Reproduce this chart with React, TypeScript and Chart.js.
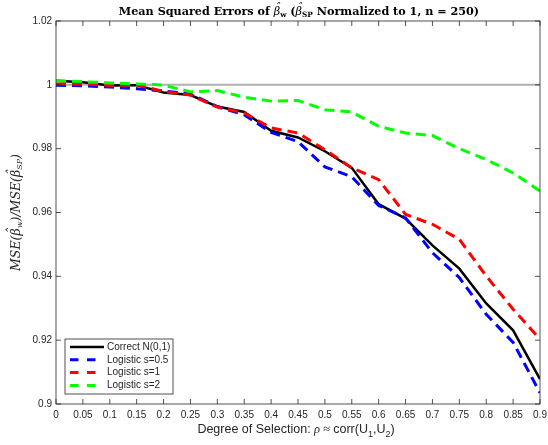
import React, { useEffect, useRef } from "react";
import { Chart, registerables } from "chart.js";
Chart.register(...registerables);

const rho = [0, 0.05, 0.1, 0.15, 0.2, 0.25, 0.3, 0.35, 0.4, 0.45, 0.5, 0.55, 0.6, 0.65, 0.7, 0.75, 0.8, 0.85, 0.9];
const correctN01 = [1.0013, 1.0008, 0.9998, 0.9999, 0.9976, 0.9968, 0.9932, 0.9915, 0.9856, 0.9835, 0.9792, 0.974, 0.9626, 0.9581, 0.9497, 0.9424, 0.9315, 0.9231, 0.9078];
const logisticS05 = [0.9999, 0.9997, 0.9993, 0.9988, 0.9981, 0.9971, 0.9932, 0.9906, 0.9851, 0.9822, 0.9743, 0.9712, 0.9622, 0.9583, 0.9474, 0.9396, 0.9281, 0.9193, 0.9035];
const logisticS1 = [1.0003, 1.0003, 0.9998, 1.0, 0.9979, 0.9968, 0.993, 0.9912, 0.9865, 0.9849, 0.9797, 0.974, 0.9703, 0.9594, 0.9563, 0.9516, 0.9401, 0.9297, 0.9203];
const logisticS2 = [1.0013, 1.001, 1.0006, 1.0003, 0.9999, 0.9978, 0.9982, 0.9961, 0.9949, 0.9951, 0.9922, 0.9915, 0.987, 0.9849, 0.9841, 0.98, 0.9766, 0.9724, 0.9667];
const refX = [0, 0.9];
const refY = [1, 1];
const seriesNames = ["Correct N(0,1)", "Logistic s=0.5", "Logistic s=1", "Logistic s=2"];
const seriesColors = ["#000000", "#0000ff", "#ff0000", "#00ff00"];
const xTicks = [0, 0.05, 0.1, 0.15, 0.2, 0.25, 0.3, 0.35, 0.4, 0.45, 0.5, 0.55, 0.6, 0.65, 0.7, 0.75, 0.8, 0.85, 0.9];
const yTicks = [0.9, 0.92, 0.94, 0.96, 0.98, 1, 1.02];

type Seg = { t: string; f: string; dy?: number; hat?: boolean };

function drawRich(ctx: CanvasRenderingContext2D, segs: Seg[], cx: number, cy: number) {
  let w = 0;
  for (const s of segs) { ctx.font = s.f; w += ctx.measureText(s.t).width; }
  let x = cx - w / 2;
  ctx.textBaseline = "middle";
  ctx.textAlign = "left";
  for (const s of segs) {
    ctx.font = s.f;
    const sw = ctx.measureText(s.t).width;
    ctx.fillText(s.t, x, cy + (s.dy || 0));
    if (s.hat) {
      ctx.textAlign = "center";
      ctx.fillText("\u02c6", x + sw / 2 + 1, cy - 4);
      ctx.textAlign = "left";
    }
    x += sw;
  }
}

const TXT = "#262626";
const fmt = (v: number) => String(parseFloat(v.toFixed(4)));

const decorPlugin = {
  id: "decor",
  afterDatasetsDraw(chart: any) {
    const { ctx, chartArea: a, scales } = chart;
    const xs = scales.x, ys = scales.y;
    ctx.save();
    ctx.strokeStyle = TXT;
    ctx.lineWidth = 0.8;
    ctx.strokeRect(a.left, a.top, a.right - a.left, a.bottom - a.top);
    const tl = 5;
    ctx.beginPath();
    for (const v of xTicks) {
      const px = xs.getPixelForValue(v);
      ctx.moveTo(px, a.bottom); ctx.lineTo(px, a.bottom - tl);
      ctx.moveTo(px, a.top); ctx.lineTo(px, a.top + tl);
    }
    for (const v of yTicks) {
      const py = ys.getPixelForValue(v);
      ctx.moveTo(a.left, py); ctx.lineTo(a.left + tl, py);
      ctx.moveTo(a.right, py); ctx.lineTo(a.right - tl, py);
    }
    ctx.stroke();

    // legend
    const lx = a.left + 9, ly = a.bottom - 65, lw = 108, lh = 55;
    ctx.fillStyle = "#ffffff";
    ctx.fillRect(lx, ly, lw, lh);
    ctx.strokeStyle = TXT;
    ctx.lineWidth = 0.8;
    ctx.strokeRect(lx, ly, lw, lh);
    seriesNames.forEach((name, i) => {
      const yy = ly + 8 + i * 12.8;
      ctx.beginPath();
      ctx.strokeStyle = seriesColors[i];
      ctx.lineWidth = i === 0 ? 2.5 : 3;
      ctx.setLineDash(i === 0 ? [] : [8.5, 8.5]);
      ctx.moveTo(lx + 5, yy); ctx.lineTo(lx + 39, yy);
      ctx.stroke();
      ctx.setLineDash([]);
      ctx.fillStyle = TXT;
      ctx.font = "10px 'Liberation Sans', Arial, sans-serif";
      ctx.textAlign = "left";
      ctx.textBaseline = "middle";
      ctx.fillText(name, lx + 42, yy);
    });

    // title
    ctx.fillStyle = "#000000";
    const tb = "bold 11.2px 'DejaVu Serif', serif";
    const ts = "bold 7.3px 'DejaVu Serif', serif";
    const ti = "italic 11.2px 'DejaVu Serif', serif";
    drawRich(ctx, [
      { t: "Mean Squared Errors of ", f: tb },
      { t: "\u03b2", f: ti, hat: true },
      { t: "w", f: ts, dy: 3 },
      { t: " (", f: tb },
      { t: "\u03b2", f: ti, hat: true },
      { t: "SP", f: ts, dy: 3 },
      { t: " Normalized to 1, n = 250)", f: tb },
    ], (a.left + a.right) / 2 + 1, 12);

    // x label
    ctx.fillStyle = TXT;
    const xf = "12.5px 'Liberation Sans', Arial, sans-serif";
    const xsf = "9px 'Liberation Sans', Arial, sans-serif";
    const xi = "italic 12.5px 'Liberation Serif', serif";
    drawRich(ctx, [
      { t: "Degree of Selection: ", f: xf },
      { t: "\u03c1", f: xi },
      { t: " \u2248 ", f: "12.5px 'Liberation Serif', serif" },
      { t: "corr(U", f: xf },
      { t: "1", f: xsf, dy: 5 },
      { t: ",U", f: xf },
      { t: "2", f: xsf, dy: 5 },
      { t: ")", f: xf },
    ], (a.left + a.right) / 2 - 2, 430);

    // y label
    ctx.save();
    ctx.translate(17, (a.top + a.bottom) / 2);
    ctx.rotate(-Math.PI / 2);
    const yi = "italic 12.5px 'DejaVu Serif', serif";
    const ysub = "italic 8px 'DejaVu Serif', serif";
    drawRich(ctx, [
      { t: "MSE(", f: yi },
      { t: "\u03b2", f: yi, hat: true },
      { t: "w", f: ysub, dy: 3 },
      { t: ")/MSE(", f: yi },
      { t: "\u03b2", f: yi, hat: true },
      { t: "SP", f: ysub, dy: 3 },
      { t: ")", f: yi },
    ], 0, 0);
    ctx.restore();
    ctx.restore();
  },
};

export default function App() {
  const ref = useRef<HTMLCanvasElement | null>(null);
  useEffect(() => {
    if (!ref.current) return;
    const mk = (ys: number[]) => rho.map((x, i) => ({ x, y: ys[i] }));
    const series = [correctN01, logisticS05, logisticS1, logisticS2];
    const datasets: any[] = [
      {
        label: "ref",
        data: refX.map((x, i) => ({ x, y: refY[i] })),
        borderColor: "#b0b0b0",
        borderWidth: 2,
        pointRadius: 0,
        order: 10,
      },
      ...series.map((s, i) => ({
        label: seriesNames[i],
        data: mk(s),
        borderColor: seriesColors[i],
        borderWidth: i === 0 ? 2.5 : 3,
        borderDash: i === 0 ? [] : [10, 6],
        pointRadius: 0,
        tension: 0,
        order: 5 - i,
      })),
    ];
    const chart = new Chart(ref.current, {
      type: "line",
      data: { datasets },
      options: {
        animation: false,
        responsive: false,
        maintainAspectRatio: false,
        layout: { padding: { left: 0, right: 8, top: 21, bottom: 0 } },
        plugins: { legend: { display: false }, tooltip: { enabled: false }, title: { display: false } },
        scales: {
          x: {
            type: "linear",
            min: 0,
            max: 0.9,
            afterBuildTicks: (s: any) => { s.ticks = xTicks.map((v) => ({ value: v })); },
            afterFit: (s: any) => { s.height = 41; s.paddingLeft = 0; s.paddingRight = 0; },
            grid: { display: false, drawTicks: false, tickLength: 0 },
            border: { display: false },
            ticks: {
              autoSkip: false,
              maxRotation: 0,
              padding: 5,
              color: TXT,
              font: { family: "'Liberation Sans', Arial, sans-serif", size: 10 },
              callback: (v: any) => fmt(Number(v)),
            },
          },
          y: {
            type: "linear",
            min: 0.9,
            max: 1.02,
            afterBuildTicks: (s: any) => { s.ticks = yTicks.map((v) => ({ value: v })); },
            afterFit: (s: any) => { s.width = 56; s.paddingTop = 0; s.paddingBottom = 0; },
            grid: { display: false, drawTicks: false, tickLength: 0 },
            border: { display: false },
            ticks: {
              autoSkip: false,
              padding: 4,
              color: TXT,
              font: { family: "'Liberation Sans', Arial, sans-serif", size: 10 },
              callback: (v: any) => fmt(Number(v)),
            },
          },
        },
      },
      plugins: [decorPlugin],
    });
    return () => chart.destroy();
  }, []);
  return (
    <div style={{ position: "fixed", left: 0, top: 0, width: 548, height: 445, background: "#fff" }}>
      <canvas ref={ref} width={548} height={445} style={{ display: "block", width: 548, height: 445 }} />
    </div>
  );
}
